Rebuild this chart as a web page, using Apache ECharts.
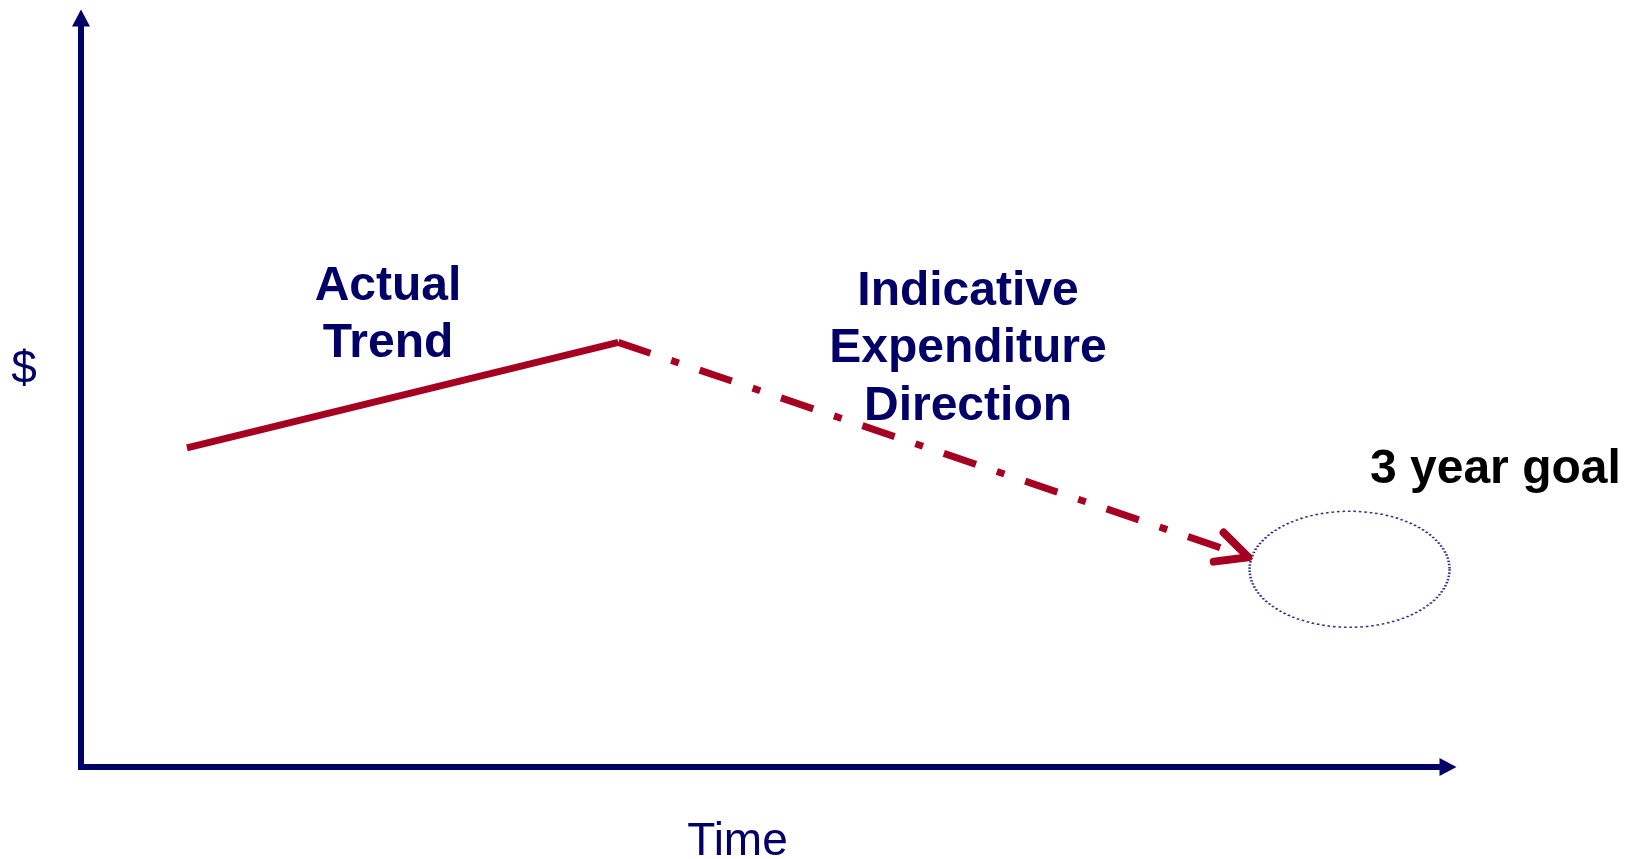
<!DOCTYPE html>
<html>
<head>
<meta charset="utf-8">
<script src="https://cdn.jsdelivr.net/npm/echarts@6/dist/echarts.min.js"></script>
<style>
html,body{margin:0;padding:0;background:#fff;}
#chart{width:1634px;height:859px;}
</style>
</head>
<body>
<div id="chart"></div>
<script>
// ---- data (conceptual units: time 0-100, $ 0-100) ----
const actualTrend = [[7.75, 42.6], [39.3, 56.7]];
const indicativeDirection = [[39.3, 56.7], [85.4, 28.0]];
const threeYearGoal = [[92.8, 26.4]];
const xAxisTitle = 'Time';
const yAxisTitle = '$';
const actualLabel = 'Actual\nTrend';
const indicativeLabel = 'Indicative\nExpenditure\nDirection';
const goalLabel = '3 year goal';

const NAVY = '#000066';
const RED = '#A50021';
const FONT = '"Liberation Sans", Arial, Helvetica, sans-serif';

const chart = echarts.init(document.getElementById('chart'), null, {renderer: 'canvas'});

const axisCommon = {
  type: 'value', min: 0, max: 100,
  axisLine: {
    show: true,
    symbol: ['none', 'triangle'],
    symbolSize: [18, 17],
    lineStyle: {color: NAVY, width: 6, cap: 'square'}
  },
  axisTick: {show: false},
  axisLabel: {show: false},
  splitLine: {show: false}
};

chart.setOption({
  backgroundColor: '#ffffff',
  animation: false,
  grid: {left: 81, right: 186, top: 18, bottom: 92},
  xAxis: Object.assign({}, axisCommon),
  yAxis: Object.assign({}, axisCommon),
  series: [
    {
      name: 'Actual Trend', type: 'line', data: actualTrend,
      symbol: 'none', z: 3,
      lineStyle: {color: RED, width: 7, cap: 'butt'}
    },
    {
      name: 'Indicative Expenditure Direction', type: 'line', data: indicativeDirection,
      symbol: 'none', z: 3,
      lineStyle: {color: RED, width: 7, type: [34, 22, 8, 22], cap: 'butt'}
    },
    {
      name: 'Arrowhead', type: 'custom', z: 4,
      data: [[indicativeDirection[0][0], indicativeDirection[0][1],
              indicativeDirection[1][0], indicativeDirection[1][1]]],
      renderItem: function (params, api) {
        const p0 = api.coord([api.value(0), api.value(1)]);
        const p1 = api.coord([api.value(2), api.value(3)]);
        const ang = Math.atan2(p1[1] - p0[1], p1[0] - p0[0]);
        const L = 35, half = 26 * Math.PI / 180;
        const a1 = [p1[0] - L * Math.cos(ang - half), p1[1] - L * Math.sin(ang - half)];
        const a2 = [p1[0] - L * Math.cos(ang + half), p1[1] - L * Math.sin(ang + half)];
        return {
          type: 'polyline',
          shape: {points: [a1, p1, a2]},
          style: {stroke: RED, lineWidth: 8, fill: null, lineCap: 'round', lineJoin: 'round'}
        };
      }
    },
    {
      name: '3 year goal', type: 'scatter', data: threeYearGoal,
      symbol: 'circle', symbolSize: [200, 116], z: 2,
      itemStyle: {color: 'rgba(0,0,0,0)', borderColor: NAVY, borderWidth: 2, borderType: [2, 2.2]}
    }
  ],
  graphic: [
    {type: 'text', x: 388, y: 315, style: {text: actualLabel, fill: NAVY,
      font: 'bold 48px ' + FONT, align: 'center', verticalAlign: 'middle', lineHeight: 57}},
    {type: 'text', x: 968, y: 349, style: {text: indicativeLabel, fill: NAVY,
      font: 'bold 48px ' + FONT, align: 'center', verticalAlign: 'middle', lineHeight: 57.5}},
    {type: 'text', x: 1370, y: 470, style: {text: goalLabel, fill: '#000000',
      font: 'bold 48px ' + FONT, align: 'left', verticalAlign: 'middle'}},
    {type: 'text', x: 24, y: 370, style: {text: yAxisTitle, fill: NAVY,
      font: '46px ' + FONT, align: 'center', verticalAlign: 'middle'}},
    {type: 'text', x: 737.5, y: 842, style: {text: xAxisTitle, fill: NAVY,
      font: '46px ' + FONT, align: 'center', verticalAlign: 'middle'}}
  ]
});
</script>
</body>
</html>
